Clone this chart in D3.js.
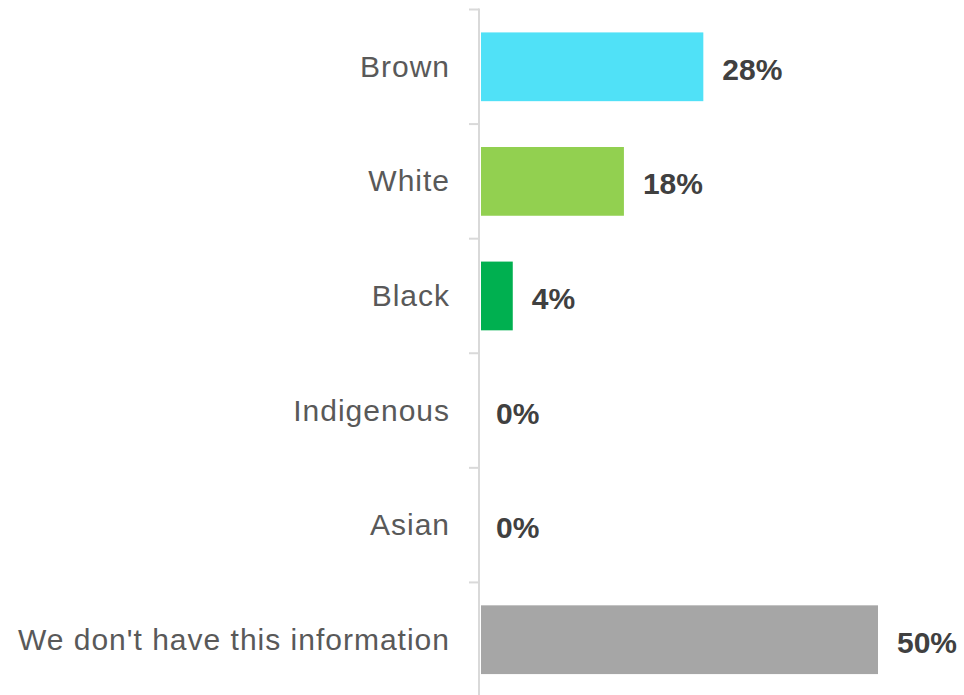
<!DOCTYPE html>
<html>
<head>
<meta charset="utf-8">
<script src="https://cdn.jsdelivr.net/npm/d3@7"></script>
<style>
  html, body { margin: 0; padding: 0; background: #ffffff; }
  svg { display: block; }
</style>
</head>
<body>
<div id="chart"></div>
<script>
// Share of respondents by race/colour
const categories = ["Brown", "White", "Black", "Indigenous", "Asian", "We don't have this information"];
const values = [28, 18, 4, 0, 0, 50];
const valueLabels = ["28%", "18%", "4%", "0%", "0%", "50%"];
const barColors = ["#50E1F7", "#92D050", "#00B050", "#00B050", "#00B050", "#A6A6A6"];

const width = 964, height = 695;

const svg = d3.select("#chart").append("svg")
  .attr("width", width)
  .attr("height", height);

const y = d3.scaleBand()
  .domain(categories)
  .range([9.5, 697])
  .paddingInner(0.4)
  .paddingOuter(0.2);

const x = d3.scaleLinear()
  .domain([0, 50])
  .range([481, 878]);

const axisX = 479;

// vertical category axis with ticks between categories
svg.append("line")
  .attr("x1", axisX).attr("x2", axisX)
  .attr("y1", y.range()[0] - 1).attr("y2", height)
  .attr("stroke", "#d9d9d9")
  .attr("stroke-width", 2);

svg.selectAll("line.tick")
  .data(d3.range(categories.length))
  .join("line")
  .attr("class", "tick")
  .attr("x1", axisX - 10).attr("x2", axisX)
  .attr("y1", i => y.range()[0] + i * y.step())
  .attr("y2", i => y.range()[0] + i * y.step())
  .attr("stroke", "#d9d9d9")
  .attr("stroke-width", 2);

const rows = categories.map((c, i) => ({ cat: c, value: values[i], label: valueLabels[i], color: barColors[i] }));

// bars
svg.selectAll("rect.bar")
  .data(rows.filter(d => d.value > 0))
  .join("rect")
  .attr("class", "bar")
  .attr("x", x(0))
  .attr("y", d => y(d.cat))
  .attr("width", d => x(d.value) - x(0))
  .attr("height", y.bandwidth())
  .attr("fill", d => d.color);

// category labels
svg.selectAll("text.cat")
  .data(rows)
  .join("text")
  .attr("class", "cat")
  .attr("x", 450)
  .attr("y", d => y(d.cat) + y.bandwidth() / 2 + 10)
  .attr("text-anchor", "end")
  .attr("font-family", "'Liberation Sans', Arial, sans-serif")
  .attr("font-size", 30)
  .attr("letter-spacing", "1px")
  .attr("fill", "#595959")
  .text(d => d.cat);

// value labels
svg.selectAll("text.val")
  .data(rows)
  .join("text")
  .attr("class", "val")
  .attr("x", d => x(d.value) + (d.value > 0 ? 19 : 15))
  .attr("y", d => y(d.cat) + y.bandwidth() / 2 + 13)
  .attr("font-family", "'Liberation Sans', Arial, sans-serif")
  .attr("font-weight", "bold")
  .attr("font-size", 30)
  .attr("fill", "#404040")
  .text(d => d.label);
</script>
</body>
</html>
